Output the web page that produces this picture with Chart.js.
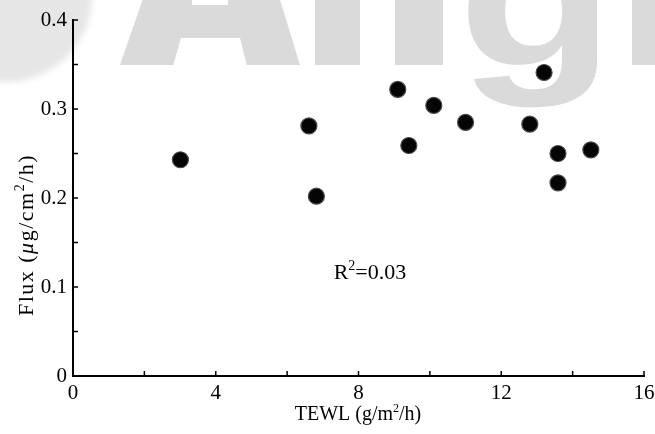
<!DOCTYPE html>
<html>
<head>
<meta charset="utf-8">
<script src="https://cdn.jsdelivr.net/npm/chart.js@4/dist/chart.umd.min.js"></script>
<style>
  html, body { margin: 0; padding: 0; background: #fff; }
  #wrap { width: 655px; height: 434px; }
</style>
</head>
<body>
<div id="wrap"><canvas id="c"></canvas></div>
<script>
// ---------------------------------------------------------------------------
// Daten
// ---------------------------------------------------------------------------
const tewlValues = [3.01, 6.61, 6.82, 9.10, 9.41, 10.11, 11.00, 12.80, 13.20, 13.59, 13.59, 14.51];
const fluxValues = [0.243, 0.281, 0.202, 0.322, 0.259, 0.304, 0.285, 0.283, 0.341, 0.250, 0.217, 0.254];

const xTickLabels = [0, 4, 8, 12, 16];
const yTickLabels = [0, 0.1, 0.2, 0.3, 0.4];

const rLabel = { text: "R", sup: "2", rest: "=0.03", x: 8.32, y: 0.109 };

const SERIF = '"Liberation Serif", "Times New Roman", serif';

// ---------------------------------------------------------------------------
// Hilfsfunktion: Text mit Hochstellung / Kursiv zeichnen
// ---------------------------------------------------------------------------
function drawRich(ctx, parts, cx, cy, size, spacing) {
    const fontOf = p => {
        const s = p.sup ? Math.round(size * 0.62) : size;
        return (p.italic ? "italic " : "") + s + "px " + SERIF;
    };
    ctx.letterSpacing = (spacing || 0) + "px";
    let total = 0;
    for (let p of parts) {
        ctx.font = fontOf(p);
        total += ctx.measureText(p.t).width;
    }
    let x = cx - total / 2;
    ctx.textAlign = "left";
    ctx.textBaseline = "alphabetic";
    for (let p of parts) {
        ctx.font = fontOf(p);
        ctx.fillText(p.t, x, p.sup ? cy - size * 0.42 : cy);
        x += ctx.measureText(p.t).width;
    }
    ctx.letterSpacing = "0px";
}

// ---------------------------------------------------------------------------
// Wasserzeichen im Hintergrund
// ---------------------------------------------------------------------------
const watermarkPlugin = {
    id: "watermark",
    beforeDraw(chart) {
        const ctx = chart.ctx;
        ctx.save();
        ctx.fillStyle = "#fff";
        ctx.fillRect(0, 0, chart.width, chart.height);

        // Kreis links oben
        ctx.filter = "blur(3px)";
        ctx.fillStyle = "#e6e6e6";
        ctx.beginPath();
        ctx.arc(6, -4, 86, 0, Math.PI * 2);
        ctx.fill();
        ctx.filter = "none";

        ctx.fillStyle = "#dadada";
        // A
        ctx.beginPath();
        ctx.moveTo(120, 65);
        ctx.lineTo(146, -10);
        ctx.lineTo(277, -10);
        ctx.lineTo(300, 65);
        ctx.closePath();
        ctx.fill();
        // l, i, n
        ctx.fillRect(315, -5, 45, 70);
        ctx.fillRect(395, -5, 48, 70);
        ctx.fillRect(632, -5, 30, 70);

        // g
        ctx.font = 'bold 200px "Liberation Sans", Arial, sans-serif';
        const m = ctx.measureText("g");
        const gw = m.actualBoundingBoxLeft + m.actualBoundingBoxRight;
        const sx = 130 / gw;
        const sy = 43 / m.actualBoundingBoxDescent;
        ctx.translate(468, 65);
        ctx.scale(sx, sy);
        ctx.textBaseline = "alphabetic";
        ctx.textAlign = "left";
        ctx.fillText("g", m.actualBoundingBoxLeft, 0);
        ctx.setTransform(1, 0, 0, 1, 0, 0);

        // Aussparungen im A
        ctx.fillStyle = "#fff";
        ctx.beginPath();
        ctx.moveTo(173, 66);
        ctx.lineTo(247, 66);
        ctx.lineTo(240, 38);
        ctx.lineTo(181, 38);
        ctx.closePath();
        ctx.fill();
        ctx.fillRect(192, -1, 36, 6);
        ctx.restore();
    }
};

// ---------------------------------------------------------------------------
// Achsen, innere Ticks, Titel, R²
// ---------------------------------------------------------------------------
const axesPlugin = {
    id: "axesDeco",
    afterDraw(chart) {
        const ctx = chart.ctx;
        const xs = chart.scales.x;
        const ys = chart.scales.y;
        const x0 = xs.getPixelForValue(0);
        const y0 = ys.getPixelForValue(0);

        ctx.save();
        ctx.strokeStyle = "#000";
        ctx.lineWidth = 2;
        ctx.lineCap = "square";
        ctx.beginPath();
        ctx.moveTo(x0, ys.getPixelForValue(0.4));
        ctx.lineTo(x0, y0);
        ctx.lineTo(xs.getPixelForValue(16), y0);
        ctx.stroke();

        ctx.lineWidth = 1.5;
        ctx.lineCap = "butt";
        ctx.beginPath();
        for (let t of xs.ticks) {
            const px = xs.getPixelForValue(t.value);
            ctx.moveTo(px, y0);
            ctx.lineTo(px, y0 - 5);
        }
        for (let t of ys.ticks) {
            const py = ys.getPixelForValue(t.value);
            ctx.moveTo(x0, py);
            ctx.lineTo(x0 + 5, py);
        }
        ctx.stroke();

        ctx.fillStyle = "#000";
        // X-Titel
        drawRich(ctx, [{ t: "TEWL (g/m" }, { t: "2", sup: true }, { t: "/h)" }], 358, 420, 20);

        // Y-Titel
        ctx.translate(33, 235);
        ctx.rotate(-Math.PI / 2);
        drawRich(ctx, [{ t: "Flux (" }, { t: "\u03bc", italic: true }, { t: "g/cm" }, { t: "2", sup: true }, { t: "/h)" }], 0, 0, 22, 1.5);
        ctx.setTransform(1, 0, 0, 1, 0, 0);

        // R²
        drawRich(ctx, [{ t: rLabel.text }, { t: rLabel.sup, sup: true }, { t: rLabel.rest }],
            xs.getPixelForValue(rLabel.x), ys.getPixelForValue(rLabel.y), 22);
        ctx.restore();
    }
};

// ---------------------------------------------------------------------------
// Chart
// ---------------------------------------------------------------------------
const points = tewlValues.map((x, i) => ({ x: x, y: fluxValues[i] }));

new Chart(document.getElementById("c"), {
    type: "scatter",
    data: {
        datasets: [{
            data: points,
            backgroundColor: "#050505",
            borderColor: "#4a4a4a",
            borderWidth: 1.2,
            pointRadius: 8,
            pointHoverRadius: 8
        }]
    },
    options: {
        responsive: true,
        maintainAspectRatio: false,
        animation: false,
        events: [],
        layout: { padding: { left: 0, right: 11, top: 20, bottom: 0 } },
        plugins: { legend: { display: false }, tooltip: { enabled: false } },
        scales: {
            x: {
                type: "linear",
                min: 0, max: 16,
                grid: { display: false, drawTicks: false },
                border: { display: false },
                afterFit: s => { s.height = 58; s.paddingLeft = 0; s.paddingRight = 0; },
                ticks: {
                    stepSize: 2,
                    autoSkip: false,
                    maxRotation: 0,
                    padding: 5,
                    color: "#000",
                    font: { family: SERIF, size: 21 },
                    callback: v => xTickLabels.includes(v) ? String(v) : ""
                }
            },
            y: {
                type: "linear",
                min: 0, max: 0.4,
                grid: { display: false, drawTicks: false },
                border: { display: false },
                afterFit: s => { s.width = 73; s.paddingTop = 0; s.paddingBottom = 0; },
                ticks: {
                    stepSize: 0.05,
                    autoSkip: false,
                    padding: 6,
                    color: "#000",
                    font: { family: SERIF, size: 21 },
                    callback: v => {
                        const r = Math.round(v * 100) / 100;
                        return yTickLabels.includes(r) ? String(r) : "";
                    }
                }
            }
        }
    },
    plugins: [watermarkPlugin, axesPlugin]
});
</script>
</body>
</html>
